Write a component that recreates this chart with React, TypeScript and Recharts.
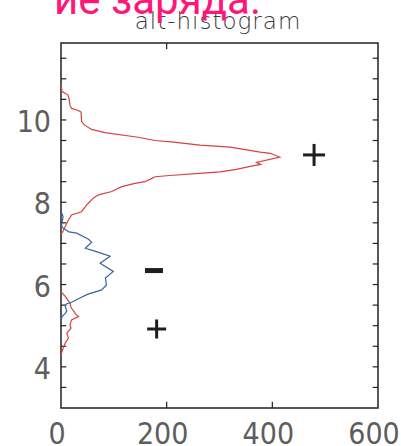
import React from 'react';
import { ScatterChart, Scatter, XAxis, YAxis, ReferenceArea, ReferenceLine } from 'recharts';

// ---------- data ----------
const xTicks = [0, 200, 400, 600];
const yLabelTicks = [4, 6, 8, 10];
const yMinorTicks = [3.5, 4, 4.5, 5, 5.5, 6, 6.5, 7, 7.5, 8, 8.5, 9, 9.5, 10, 10.5, 11, 11.5];
const xBottomInnerTicks = [200, 400];
const xTopInnerTicks = [200];

const titleText = 'alt-histogram';
const bannerText = 'ие заряда.';

// [count, altitude]
const redUpperPts: [number, number][] = [
  [0, 10.85], [2, 10.69], [13, 10.61], [15, 10.53], [17, 10.36], [20, 10.28], [33, 10.23],
  [38, 10.19], [39, 9.96], [44, 9.88], [58, 9.77], [83, 9.69], [146, 9.58], [178, 9.5],
  [213, 9.46], [263, 9.39], [320, 9.34], [377, 9.22], [396, 9.19], [414, 9.1], [370, 8.97],
  [378, 8.92], [358, 8.87], [332, 8.8], [301, 8.74], [269, 8.71], [206, 8.65], [178, 8.62],
  [172, 8.58], [159, 8.5], [140, 8.46], [115, 8.38], [96, 8.26], [71, 8.18], [61, 8.1],
  [49, 7.94], [39, 7.77], [20, 7.69], [14, 7.57], [8, 7.41], [4, 7.3], [0, 7.22],
];
const redLowerPts: [number, number][] = [
  [0, 5.83], [8, 5.71], [17, 5.55], [19, 5.44], [28, 5.28], [33, 5.22], [20, 5.14], [17, 5.02],
  [19, 4.94], [11, 4.82], [14, 4.7], [8, 4.58], [4, 4.45], [1, 4.33], [0, 4.25],
];
const bluePts: [number, number][] = [
  [0, 7.78], [4, 7.65], [1, 7.42], [4, 7.37], [15, 7.28], [30, 7.25], [52, 7.1], [58, 7.03],
  [46, 6.88], [67, 6.8], [93, 6.69], [74, 6.52], [99, 6.32], [84, 6.16], [86, 5.99], [77, 5.87],
  [50, 5.76], [34, 5.66], [20, 5.57], [10, 5.53], [8, 5.47], [11, 5.36], [8, 5.3], [2, 5.22],
  [0, 5.14],
];
const signPts: { count: number; alt: number; sign: string; size: number }[] = [
  { count: 479, alt: 9.15, sign: '+', size: 11 },
  { count: 176, alt: 6.34, sign: '-', size: 9 },
  { count: 181, alt: 4.92, sign: '+', size: 9.5 },
];

const X_DOMAIN: [number, number] = [0, 600];
const Y_DOMAIN: [number, number] = [3, 11.87];

const toObj = (pts: [number, number][]) => pts.map(([count, alt]) => ({ count, alt }));
const redUpper = toObj(redUpperPts);
const redLower = toObj(redLowerPts);
const blue = toObj(bluePts);

// ---------- styles ----------
const W = 401;
const H = 446;
const RED = '#d8413f';
const BLUE = '#3b62a6';
const FRAME = '#222';
const LABEL_FONT = '"Liberation Sans Narrow", "DejaVu Sans Condensed", "Liberation Sans", sans-serif';
const LABEL_COLOR = '#5e5e5e';

const XTick = (props: any) => {
  const { x, y, payload } = props;
  return (
    <text x={x - 4} y={y + 36} textAnchor="middle" fontFamily={LABEL_FONT} fontSize={30} fill={LABEL_COLOR}>
      {payload.value}
    </text>
  );
};

const YTick = (props: any) => {
  const { x, y, payload } = props;
  return (
    <text x={x - 10} y={y + 12} textAnchor="end" fontFamily={LABEL_FONT} fontSize={30} fill={LABEL_COLOR}>
      {payload.value}
    </text>
  );
};

const NoDot = () => <g />;

const SignShape = (props: any) => {
  const { cx, cy, payload } = props;
  const s = payload.size;
  if (payload.sign === '+') {
    return (
      <g>
        <line x1={cx - s} x2={cx + s} y1={cy} y2={cy} stroke="#1e1e1e" strokeWidth={3} />
        <line x1={cx} x2={cx} y1={cy - s} y2={cy + s} stroke="#1e1e1e" strokeWidth={3} />
      </g>
    );
  }
  return <rect x={cx - s} y={cy - 2.5} width={2 * s} height={5} fill="#1e1e1e" />;
};

const xLen = 10; // inward tick length in x-units
const yLen = 0.15; // inward tick length in y-units

export default function App() {
  return (
    <div style={{ position: 'absolute', left: 0, top: 0, width: W, height: H, background: '#fff', overflow: 'hidden' }}>
      <ScatterChart width={W} height={H} margin={{ top: 43, right: 23, bottom: 8, left: 0 }}>
        <XAxis
          type="number"
          dataKey="count"
          domain={X_DOMAIN}
          ticks={xTicks}
          allowDataOverflow
          axisLine={false}
          tickLine={false}
          tickSize={0}
          tickMargin={0}
          height={30}
          tick={<XTick />}
          interval={0}
        />
        <YAxis
          type="number"
          dataKey="alt"
          domain={Y_DOMAIN}
          ticks={yLabelTicks}
          allowDataOverflow
          axisLine={false}
          tickLine={false}
          tickSize={0}
          tickMargin={0}
          width={61}
          tick={<YTick />}
          interval={0}
        />
        <ReferenceArea x1={X_DOMAIN[0]} x2={X_DOMAIN[1]} y1={Y_DOMAIN[0]} y2={Y_DOMAIN[1]} fill="none" stroke={FRAME} strokeWidth={1.5} fillOpacity={0} />
        {yMinorTicks.map((t) => (
          <ReferenceLine key={'l' + t} segment={[{ x: X_DOMAIN[0], y: t }, { x: X_DOMAIN[0] + xLen, y: t }]} stroke={FRAME} strokeWidth={1.2} />
        ))}
        {yMinorTicks.map((t) => (
          <ReferenceLine key={'r' + t} segment={[{ x: X_DOMAIN[1] - xLen, y: t }, { x: X_DOMAIN[1], y: t }]} stroke={FRAME} strokeWidth={1.2} />
        ))}
        {xBottomInnerTicks.map((t) => (
          <ReferenceLine key={'b' + t} segment={[{ x: t, y: Y_DOMAIN[0] }, { x: t, y: Y_DOMAIN[0] + yLen }]} stroke={FRAME} strokeWidth={1.2} />
        ))}
        {xTopInnerTicks.map((t) => (
          <ReferenceLine key={'t' + t} segment={[{ x: t, y: Y_DOMAIN[1] - yLen }, { x: t, y: Y_DOMAIN[1] }]} stroke={FRAME} strokeWidth={1.2} />
        ))}
        <Scatter data={redUpper} fill={RED} line={{ stroke: RED, strokeWidth: 1.2 }} shape={<NoDot />} isAnimationActive={false} />
        <Scatter data={redLower} fill={RED} line={{ stroke: RED, strokeWidth: 1.2 }} shape={<NoDot />} isAnimationActive={false} />
        <Scatter data={blue} fill={BLUE} line={{ stroke: BLUE, strokeWidth: 1.2 }} shape={<NoDot />} isAnimationActive={false} />
        <Scatter data={signPts} fill="#1e1e1e" shape={<SignShape />} isAnimationActive={false} />
      </ScatterChart>
      <svg width={W} height={H} style={{ position: 'absolute', left: 0, top: 0, pointerEvents: 'none' }}>
        <text x={218} y={29} textAnchor="middle" fontFamily='"DejaVu Sans", sans-serif' fontWeight={200} fontSize={23} letterSpacing={1} fill="#3a3a3a">
          {titleText}
        </text>
        <text x={261} y={14} textAnchor="end" fontFamily='Roboto, "Noto Sans", sans-serif' fontSize={42} fill="#ff1677">
          {bannerText}
        </text>
      </svg>
    </div>
  );
}
